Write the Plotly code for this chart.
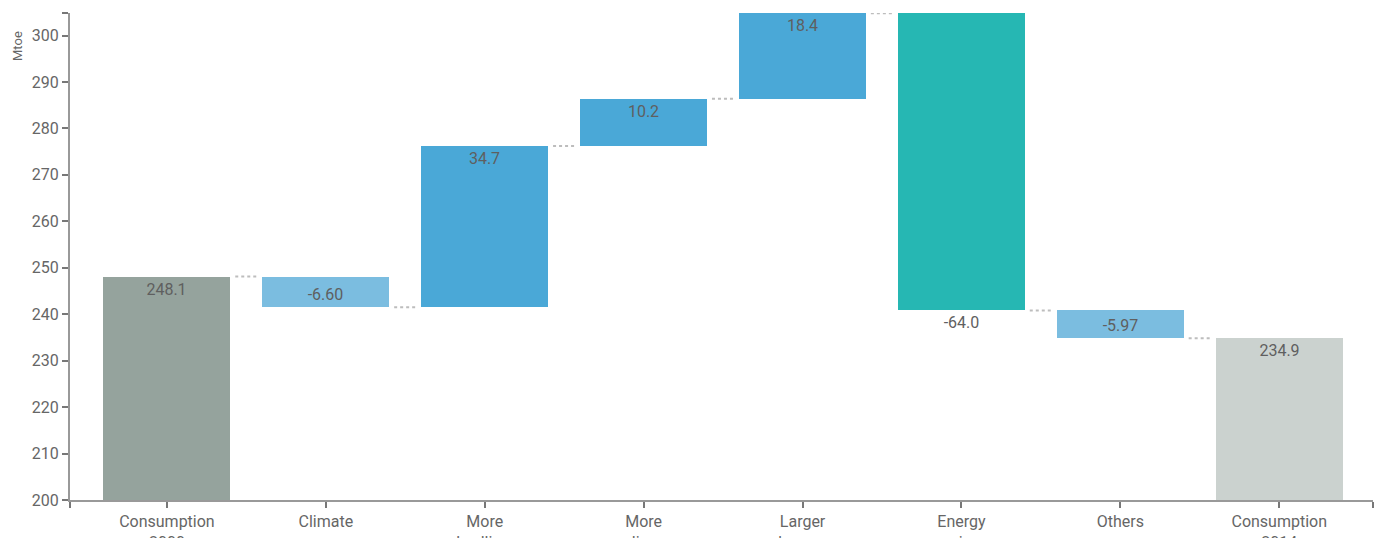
import plotly.graph_objects as go

# Residential energy consumption decomposition, 2000 -> 2014 (Mtoe)
categories = ["Consumption<br>2000", "Climate", "More<br>dwellings", "More<br>appliances",
              "Larger<br>homes", "Energy<br>savings", "Others", "Consumption<br>2014"]
kinds = ["total", "delta", "delta", "delta", "delta", "delta", "delta", "total"]
values = [248.1, -6.60, 34.7, 10.2, 18.4, -64.0, -5.97, 234.9]
labels = ["248.1", "-6.60", "34.7", "10.2", "18.4", "-64.0", "-5.97", "234.9"]
colors = ["#95a39d", "#7bbde0", "#4aa8d7", "#4aa8d7", "#4aa8d7", "#26b7b3", "#7bbde0", "#cbd2cf"]
label_pos = ["inside", "inside", "inside", "inside", "inside", "outside", "inside", "inside"]

y_min, y_max = 200, 304.85
y_ticks = [200, 210, 220, 230, 240, 250, 260, 270, 280, 290, 300]

# bar bases and running level
bases, heights, ends = [], [], []
level = 0.0
for kind, v in zip(kinds, values):
    if kind == "total":
        bases.append(y_min)
        heights.append(v - y_min)
        level = v
    else:
        bases.append(level)
        heights.append(v)
        level = level + v
    ends.append(level)

x = list(range(len(categories)))
bar_w = 0.8

label_font = dict(family="Roboto", size=16, color="#5f5f5f")

fig = go.Figure()
fig.add_trace(go.Bar(
    x=x, y=heights, base=bases, width=bar_w,
    marker=dict(color=colors, line=dict(width=0)),
    text=labels, textposition=label_pos, insidetextanchor="end",
    textfont=label_font, insidetextfont=label_font, outsidetextfont=label_font,
    cliponaxis=True, hoverinfo="skip", showlegend=False,
))

# dotted connectors in the gaps between consecutive bars
cx, cy = [], []
gap = 1 - bar_w
for i in range(len(categories) - 1):
    cx += [i + bar_w / 2 + gap * 0.15, i + 1 - bar_w / 2 - gap * 0.15, None]
    cy += [ends[i], ends[i], None]
fig.add_trace(go.Scatter(
    x=cx, y=cy, mode="lines",
    line=dict(color="#bdbdbd", width=2, dash="dot"),
    hoverinfo="skip", showlegend=False, cliponaxis=False,
))

x_lo, x_hi = -0.61, 7.59
tick_font = dict(family="Roboto", size=16, color="#666666")
fig.update_layout(
    width=1383, height=538,
    margin=dict(l=70, r=10, t=13, b=38),
    plot_bgcolor="white", paper_bgcolor="white",
    font=dict(family="Roboto", size=16, color="#666666"),
    bargap=0,
    xaxis=dict(
        range=[x_lo, x_hi], automargin=False,
        tickvals=[x_lo] + x + [x_hi], ticktext=[""] + categories + [""],
        ticks="outside", ticklen=6, tickwidth=1.5, tickcolor="#777777",
        showline=True, linecolor="#999999", linewidth=2,
        showgrid=False, zeroline=False, tickfont=tick_font,
    ),
    yaxis=dict(
        range=[y_min, y_max], automargin=False,
        tickvals=y_ticks + [y_max], ticktext=[str(t) for t in y_ticks] + [""],
        ticks="outside", ticklen=6, tickwidth=1.5, tickcolor="#777777",
        showline=True, linecolor="#999999", linewidth=2,
        showgrid=False, zeroline=False, tickfont=tick_font,
    ),
    annotations=[dict(
        text="Mtoe", textangle=-90, showarrow=False,
        xref="paper", yref="paper", x=0, y=1,
        xanchor="center", yanchor="middle", xshift=-53, yshift=-33,
        font=dict(family="Roboto", size=13, color="#666666"),
    )],
)

fig.write_html("out.html")
